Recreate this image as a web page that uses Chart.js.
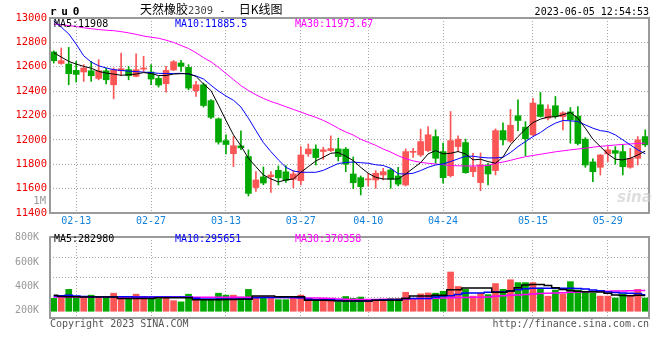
<!DOCTYPE html>
<html><head><meta charset="utf-8">
<script src="https://cdn.jsdelivr.net/npm/chart.js@4.4.0/dist/chart.umd.min.js"></script>
<style>
html,body{margin:0;padding:0;background:#fff;}
#wrap{position:relative;width:660px;height:360px;overflow:hidden;font-family:"DejaVu Sans Mono",monospace;}
canvas{position:absolute;left:0;}
.t{position:absolute;white-space:pre;font-size:10px;line-height:12px;font-family:"DejaVu Sans Mono",monospace;}
</style></head><body>
<div id="wrap">
<canvas id="main" width="660" height="228" style="top:0;width:660px;height:228px"></canvas>
<canvas id="vol" width="660" height="132" style="top:228px;width:660px;height:132px"></canvas>
<div class="t" style="left:50px;top:6px;font-weight:bold;font-size:11px;letter-spacing:4.7px;color:#000">ru0</div>
<div class="t" style="left:140px;top:2px;font-family:'Noto Sans CJK SC',sans-serif;font-size:12px;line-height:14px;color:#000">天然橡胶<span style="font-family:'DejaVu Sans Mono',monospace;font-size:10.4px;color:#444">2309 - </span><span style="margin-left:7px">日K线图</span></div>
<div class="t" style="right:11px;top:6px;color:#000">2023-06-05 12:54:53</div>
<div class="t" style="left:54px;top:17.5px;color:#000">MA5:11908</div>
<div class="t" style="left:175px;top:17.5px;color:#0000ff">MA10:11885.5</div>
<div class="t" style="left:295px;top:17.5px;color:#ff00ff">MA30:11973.67</div>
<div class="t" style="right:614px;top:194px;color:#999;font-size:10.5px">1M</div>
<div class="t" style="left:617px;top:188px;font-family:'DejaVu Sans',sans-serif;font-style:italic;font-weight:bold;font-size:15px;line-height:18px;color:rgba(200,200,200,0.6)">sina</div>
<div class="t" style="left:54px;top:232.5px;color:#000">MA5:282980</div>
<div class="t" style="left:175px;top:232.5px;color:#0000ff">MA10:295651</div>
<div class="t" style="left:295px;top:232.5px;color:#ff00ff">MA30:370358</div>
<div class="t" style="left:50px;top:317.5px;color:#555">Copyright 2023 SINA.COM</div>
<div class="t" style="right:11px;top:317.5px;color:#555">http://finance.sina.com.cn</div>
</div>
<script>
const dates = ['02-08','02-09','02-10','02-13','02-14','02-15','02-16','02-17','02-20','02-21','02-22','02-23','02-24','02-27','02-28',
'03-01','03-02','03-03','03-06','03-07','03-08','03-09','03-10','03-13','03-14','03-15','03-16','03-17','03-20','03-21','03-22','03-23','03-24','03-27','03-28','03-29','03-30','03-31',
'04-03','04-04','04-06','04-07','04-10','04-11','04-12','04-13','04-14','04-17','04-18','04-19','04-20','04-21','04-24','04-25','04-26','04-27','04-28',
'05-04','05-05','05-08','05-09','05-10','05-11','05-12','05-15','05-16','05-17','05-18','05-19','05-22','05-23','05-24','05-25','05-26','05-29','05-30','05-31',
'06-01','06-02','06-05'];
const tickDates = ['02-13','02-27','03-13','03-27','04-10','04-24','05-15','05-29'];

const open = [12721,12627,12622,12570,12557,12567,12504,12567,12452,12567,
12576,12521,12581,12557,12504,12460,12573,12631,12595,12403,
12452,12322,12172,11994,11887,11951,11863,11609,11696,11698,
11750,11738,11677,11665,11885,11925,11905,11912,11926,11924,
11720,11690,11672,11671,11712,11753,11704,11630,11898,11876,
11912,12027,11904,11706,11945,11978,11739,11649,11794,11748,
12076,11990,12198,12104,12041,12288,12178,12280,12190,12230,
12195,12006,11819,11775,11885,11912,11904,11775,11849,12027];
const high = [12730,12754,12759,12644,12617,12644,12658,12590,12590,12713,
12603,12707,12685,12617,12521,12603,12652,12652,12617,12480,
12466,12330,12180,12041,12027,12074,11918,11739,11778,11739,
11786,11790,11746,11945,11966,11959,11940,12033,12014,11937,
11860,11704,11726,11748,11767,11767,11775,11926,11931,12088,
12109,12082,11973,12233,12033,12006,11890,11893,11808,12090,
12140,12250,12329,12150,12340,12389,12288,12356,12233,12265,
12274,12019,11845,11880,11945,11945,11959,11931,12027,12082];
const low = [12630,12620,12452,12474,12480,12480,12493,12460,12337,12526,
12493,12516,12562,12452,12433,12392,12570,12562,12411,12356,
12269,12175,11965,11885,11780,11920,11540,11577,11632,11568,
11630,11650,11607,11630,11865,11794,11840,11904,11827,11739,
11600,11548,11622,11603,11671,11603,11622,11622,11857,11863,
11904,11808,11644,11695,11904,11726,11698,11583,11630,11712,
11959,11978,12076,11870,12033,12187,12164,12178,12082,11973,
11959,11775,11657,11712,11822,11800,11712,11767,11794,11945];
const close = [12650,12650,12543,12537,12590,12526,12567,12493,12576,12584,
12526,12576,12590,12499,12450,12570,12641,12603,12425,12452,
12282,12185,11982,11962,11952,11935,11561,11671,11646,11712,
11688,11668,11720,11876,11925,11855,11918,11929,11863,11800,
11649,11616,11680,11726,11739,11677,11637,11904,11904,11986,
12042,11849,11690,11994,12006,11731,11778,11796,11720,12076,
12000,12120,12159,12010,12302,12192,12253,12192,12222,12164,
11970,11794,11739,11876,11918,11890,11780,11849,12000,11959];

const ma5 = [12715,12680,12644,12622,12603,12588,12562,12548,12540,12530,
12535,12540,12552,12545,12528,12528,12540,12543,12543,12521,
12458,12405,12285,12160,12041,11951,11849,11780,11712,11680,
11655,11671,11679,11734,11780,11827,11857,11890,11896,11866,
11830,11775,11726,11693,11679,11679,11679,11720,11767,11813,
11885,11912,11885,11890,11904,11885,11836,11841,11822,11808,
11860,11959,12027,12088,12142,12170,12187,12190,12206,12225,
12178,12096,12006,11945,11885,11841,11836,11849,11876,11908];
const ma10 = [12975,12925,12870,12785,12690,12638,12608,12590,12576,12570,
12564,12560,12556,12552,12546,12544,12545,12546,12541,12524,
12500,12448,12400,12360,12325,12270,12178,12076,11978,11904,
11836,11775,11745,11734,11734,11734,11750,11778,11806,11815,
11818,11813,11808,11796,11790,11767,11722,11720,11726,11748,
11775,11794,11803,11822,11844,11866,11866,11857,11852,11852,
11857,11896,11945,11986,12027,12060,12104,12137,12159,12156,
12151,12123,12096,12076,12068,12041,12000,11959,11918,11886];
const ma30 = [12950,12945,12938,12930,12920,12912,12905,12900,12896,12888,
12878,12866,12852,12842,12834,12818,12800,12775,12750,12715,
12675,12640,12595,12545,12495,12445,12405,12370,12340,12315,
12295,12272,12250,12228,12206,12185,12160,12130,12095,12065,
12040,12005,11980,11955,11925,11900,11870,11845,11828,11815,
11808,11802,11796,11790,11787,11786,11786,11787,11790,11808,
11818,11832,11848,11862,11872,11882,11892,11902,11910,11918,
11925,11932,11940,11947,11952,11958,11963,11967,11970,11974];

// volume in thousand lots
const volumeK = [229,241,390,241,241,287,241,241,322,241,
229,304,263,241,224,258,189,167,304,212,
212,212,322,287,287,253,390,253,241,241,
206,206,229,287,224,218,194,194,167,263,
229,253,212,212,212,229,229,339,212,310,
327,322,356,700,442,390,270,322,298,494,
390,562,511,511,511,413,270,378,310,528,
378,344,327,270,270,236,310,287,390,236];
const volMa5K = [287,265,258,258,253,253,253,253,253,229,
229,229,229,229,240,240,240,240,240,206,
206,206,206,210,210,215,215,270,270,270,
260,260,260,260,196,196,196,190,184,184,
184,184,184,196,196,196,196,229,270,270,
270,287,287,385,385,413,413,413,413,339,
339,360,420,470,476,476,460,420,390,370,
355,350,350,345,320,290,283,278,285,283];
const volMa10K = [270,275,287,270,262,258,258,258,258,258,
258,256,256,255,255,255,255,255,250,230,
218,218,218,218,218,218,222,240,246,246,
246,246,246,240,215,206,206,206,195,184,
184,184,184,195,206,206,206,229,229,229,
229,255,270,275,300,327,327,327,340,344,
344,360,385,400,410,410,410,410,410,410,
405,395,380,365,345,335,325,322,318,296];
const volMa30K = [255,255,255,255,255,255,255,254,254,254,
253,253,253,252,252,252,252,252,252,251,
251,250,250,250,250,250,249,249,248,247,
246,244,242,240,238,236,232,226,218,212,
210,210,210,210,212,212,214,220,224,226,
228,230,236,242,245,246,248,250,256,266,
276,285,292,300,308,315,320,325,332,340,
345,350,353,356,358,360,363,366,368,370];
const volTickLabelsK = [200,400,600,800];

const RED = '#fa5656', GREEN = '#00a800', GRID = '#a8a8a8';
const MONO = '"DejaVu Sans Mono", monospace';
const colors = close.map((c, i) => c >= open[i] ? RED : GREEN);
const tickIdx = tickDates.map(d => dates.indexOf(d));

const frame = {
  id: 'frame',
  afterDraw(chart) {
    const {ctx, chartArea: a} = chart;
    ctx.save();
    ctx.strokeStyle = '#9a9a9a';
    ctx.lineWidth = 2;
    ctx.strokeRect(a.left, a.top, a.right - a.left, a.bottom - a.top);
    ctx.restore();
  }
};

function xAxis(showLabels) {
  return {
    type: 'category', offset: true,
    grid: {display: true, color: GRID, lineWidth: 1, drawTicks: false, offset: false},
    border: {display: false, dash: [1, 2]},
    ticks: {display: showLabels, autoSkip: false, maxRotation: 0, minRotation: 0, padding: 2,
            color: '#1482dc', font: {family: MONO, size: 10}},
    afterBuildTicks: ax => { ax.ticks = tickIdx.map(v => ({value: v})); },
    afterFit: ax => { ax.height = showLabels ? 15 : 0; }
  };
}

const lineDs = (data, color, w, extra) => Object.assign({
  type: 'line', data, borderColor: color, borderWidth: w, pointRadius: 0, tension: 0, fill: false
}, extra || {});

new Chart(document.getElementById('main'), {
  type: 'bar',
  data: {
    labels: dates,
    datasets: [
      lineDs(ma5, '#000000', 1),
      lineDs(ma10, '#0000ff', 1),
      lineDs(ma30, '#ff00ff', 1),
      {type: 'bar', data: open.map((o, i) => [o, close[i]]), backgroundColor: colors,
       barThickness: 6, grouped: false, minBarLength: 1, borderWidth: 0},
      {type: 'bar', data: low.map((l, i) => [l, high[i]]), backgroundColor: colors,
       barThickness: 1, grouped: false, minBarLength: 1, borderWidth: 0}
    ]
  },
  options: {
    responsive: false, animation: false, devicePixelRatio: 1, events: [],
    layout: {padding: {top: 18, right: 11, left: 0, bottom: 0}},
    plugins: {legend: {display: false}, tooltip: {enabled: false}},
    scales: {
      x: xAxis(true),
      y: {
        type: 'linear', position: 'left', min: 11400, max: 13000,
        ticks: {stepSize: 200, color: '#ee0000', font: {family: MONO, size: 10.5}, padding: 3,
                callback: v => String(v)},
        grid: {color: GRID, drawTicks: false},
        border: {display: false, dash: [1, 2]},
        afterFit: ax => { ax.width = 50; }
      }
    }
  },
  plugins: [frame]
});

new Chart(document.getElementById('vol'), {
  type: 'bar',
  data: {
    labels: dates,
    datasets: [
      lineDs(volMa5K, '#000000', 1.5, {stepped: 'middle', yAxisID: 'y'}),
      lineDs(volMa10K, '#0000ff', 1.5, {stepped: 'middle', yAxisID: 'y'}),
      lineDs(volMa30K, '#ff00ff', 1.5, {stepped: 'middle', yAxisID: 'y'}),
      {type: 'bar', data: volumeK, backgroundColor: colors, barThickness: 6, borderWidth: 0, yAxisID: 'y'}
    ]
  },
  options: {
    responsive: false, animation: false, devicePixelRatio: 1, events: [],
    layout: {padding: {top: 6, right: 11, left: 0, bottom: 42}},
    plugins: {legend: {display: false}, tooltip: {enabled: false}},
    scales: {
      x: xAxis(false),
      y: {
        type: 'linear', position: 'right', min: -120.4, max: 1324.4,
        ticks: {display: false, count: 5},
        grid: {color: GRID, drawTicks: false},
        border: {display: false, dash: [1, 2]},
        afterFit: ax => { ax.width = 0; }
      },
      yLab: {
        type: 'linear', position: 'left', min: 140.6, max: 806,
        grid: {display: false}, border: {display: false},
        ticks: {color: '#999999', font: {family: MONO, size: 10}, padding: 3, callback: v => v + 'K'},
        afterBuildTicks: ax => { ax.ticks = volTickLabelsK.map(v => ({value: v})); },
        afterFit: ax => { ax.width = 50; }
      }
    }
  },
  plugins: [frame]
});
</script>
</body></html>
